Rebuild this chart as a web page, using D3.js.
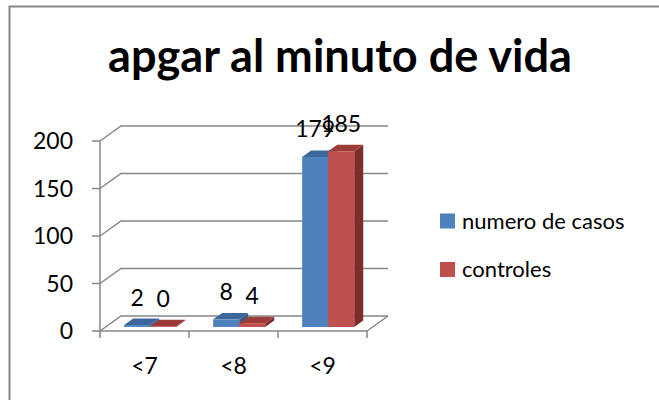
<!DOCTYPE html>
<meta charset="utf-8">
<style>
body { margin: 0; background: #fff; }
text { font-family: Lato, "Noto Sans", sans-serif; fill: #000; }
</style>
<body>
<script src="https://d3js.org/d3.v7.min.js"></script>
<script>

var categories = ["<7", "<8", "<9"];
var seriesNames = ["numero de casos", "controles"];
var casos = [2, 8, 179];
var controles = [0, 4, 185];
var yTicks = [0, 50, 100, 150, 200];
var title = "apgar al minuto de vida";

var width = 659, height = 400;
var DX = 21, DY = -15;          // depth of the 3d box
var d0 = 0.27, d1 = 0.70;       // bar front / back depth
var grid = "#868686";

var svg = d3.select("body").append("svg")
    .attr("width", width)
    .attr("height", height);

// frame
svg.append("path")
    .attr("d", "M9.5,400V6.5H659")
    .attr("fill", "none")
    .attr("stroke", grid)
    .attr("stroke-width", 2);

var x0 = d3.scaleBand().domain(categories).range([100, 367]);
var x1 = d3.scaleBand().domain(seriesNames).range([0, x0.bandwidth()]).paddingOuter(0.71);
var y = d3.scaleLinear().domain([0, 200]).range([331, 141]);

function P(x, v, d) { return [x + d * DX, y(v) + d * DY]; }
var line = d3.line();
var xLeft = x0.range()[0], xRight = x0.range()[1];

// side wall + back wall gridlines
svg.append("g").selectAll("path")
  .data(yTicks)
  .enter().append("path")
    .attr("d", function(v) { return line([P(xLeft, v, 0), P(xLeft, v, 1), P(xRight, v, 1)]); })
    .attr("fill", "none")
    .attr("stroke", grid)
    .attr("stroke-width", 1.5);

// floor right edge
svg.append("path")
    .attr("d", line([P(xRight, 0, 0), P(xRight, 0, 1)]))
    .attr("stroke", grid).attr("stroke-width", 1.5);

// value axis
svg.append("path")
    .attr("d", "M" + xLeft + "," + y(200) + "V" + y(0))
    .attr("stroke", grid).attr("stroke-width", 1.5);
svg.append("g").selectAll("line")
  .data(yTicks)
  .enter().append("line")
    .attr("x1", xLeft - 8).attr("x2", xLeft)
    .attr("y1", function(v) { return y(v); })
    .attr("y2", function(v) { return y(v); })
    .attr("stroke", grid).attr("stroke-width", 1.5);
svg.append("g").selectAll("text")
  .data(yTicks)
  .enter().append("text")
    .attr("x", 73)
    .attr("y", function(v) { return y(v); })
    .attr("dy", "0.36em")
    .attr("text-anchor", "end")
    .style("font-size", "23px")
    .text(function(v) { return v; });

// category axis
svg.append("path")
    .attr("d", "M" + xLeft + "," + y(0) + "H" + xRight)
    .attr("stroke", grid).attr("stroke-width", 1.5);
var catTicks = categories.map(function(c) { return x0(c); }).concat([xRight]);
svg.append("g").selectAll("line")
  .data(catTicks)
  .enter().append("line")
    .attr("x1", function(d) { return d; })
    .attr("x2", function(d) { return d; })
    .attr("y1", y(0)).attr("y2", y(0) + 7)
    .attr("stroke", grid).attr("stroke-width", 1.5);
svg.append("g").selectAll("text")
  .data(categories)
  .enter().append("text")
    .attr("x", function(c) { return x0(c) + x0.bandwidth() / 2; })
    .attr("y", 374)
    .attr("text-anchor", "middle")
    .style("font-size", "23px")
    .text(function(c) { return c; });

// bars
var colors = {
  "numero de casos": { front: "#4f81bd", top: "#3d669b", side: "#385d8a" },
  "controles": { front: "#c0504d", top: "#9c3c39", side: "#7d2e2c" }
};
var bars = [];
categories.forEach(function(c, i) {
  bars.push({ cat: c, s: seriesNames[0], v: casos[i] });
  bars.push({ cat: c, s: seriesNames[1], v: controles[i] });
});

svg.append("g").selectAll("g")
  .data(bars)
  .enter().append("g")
  .each(function(b) {
    var g = d3.select(this);
    var xa = x0(b.cat) + x1(b.s), xb = xa + x1.bandwidth();
    var v = Math.max(b.v, 0.8);
    var col = colors[b.s];
    g.append("path")
        .attr("d", line([P(xb, v, d0), P(xb, 0, d0), P(xb, 0, d1), P(xb, v, d1)]) + "Z")
        .attr("fill", col.side);
    g.append("path")
        .attr("d", line([P(xa, v, d0), P(xb, v, d0), P(xb, v, d1), P(xa, v, d1)]) + "Z")
        .attr("fill", col.top);
    g.append("path")
        .attr("d", line([P(xa, v, d0), P(xb, v, d0), P(xb, 0, d0), P(xa, 0, d0)]) + "Z")
        .attr("fill", col.front);
  });

// value labels
svg.append("g").selectAll("text")
  .data(bars)
  .enter().append("text")
    .attr("x", function(b) { return x0(b.cat) + x1(b.s) + x1.bandwidth() / 2 + d0 * DX; })
    .attr("y", function(b) { return y(b.v) + d0 * DY - 19.5; })
    .attr("text-anchor", "middle")
    .style("font-size", "23px")
    .text(function(b) { return b.v; });

// legend
var legendY = [221, 269.5];
var lg = svg.append("g").selectAll("g")
  .data(seriesNames)
  .enter().append("g")
    .attr("transform", function(s, i) { return "translate(440," + legendY[i] + ")"; });
lg.append("rect")
    .attr("y", -7.5)
    .attr("width", 15).attr("height", 15)
    .attr("fill", function(s) { return colors[s].front; });
lg.append("text")
    .attr("x", 22)
    .attr("dy", "0.36em")
    .style("font-size", "22px")
    .text(function(s) { return s; });

// title, fitted to the width it has in the picture
var t = svg.append("text")
    .attr("x", 340)
    .attr("y", 72)
    .attr("text-anchor", "middle")
    .style("font-weight", "bold")
    .style("font-size", "40px")
    .text(title);
var tw = t.node().getComputedTextLength();
t.style("font-size", (40 * 464 / tw) + "px");

</script>
</body>
